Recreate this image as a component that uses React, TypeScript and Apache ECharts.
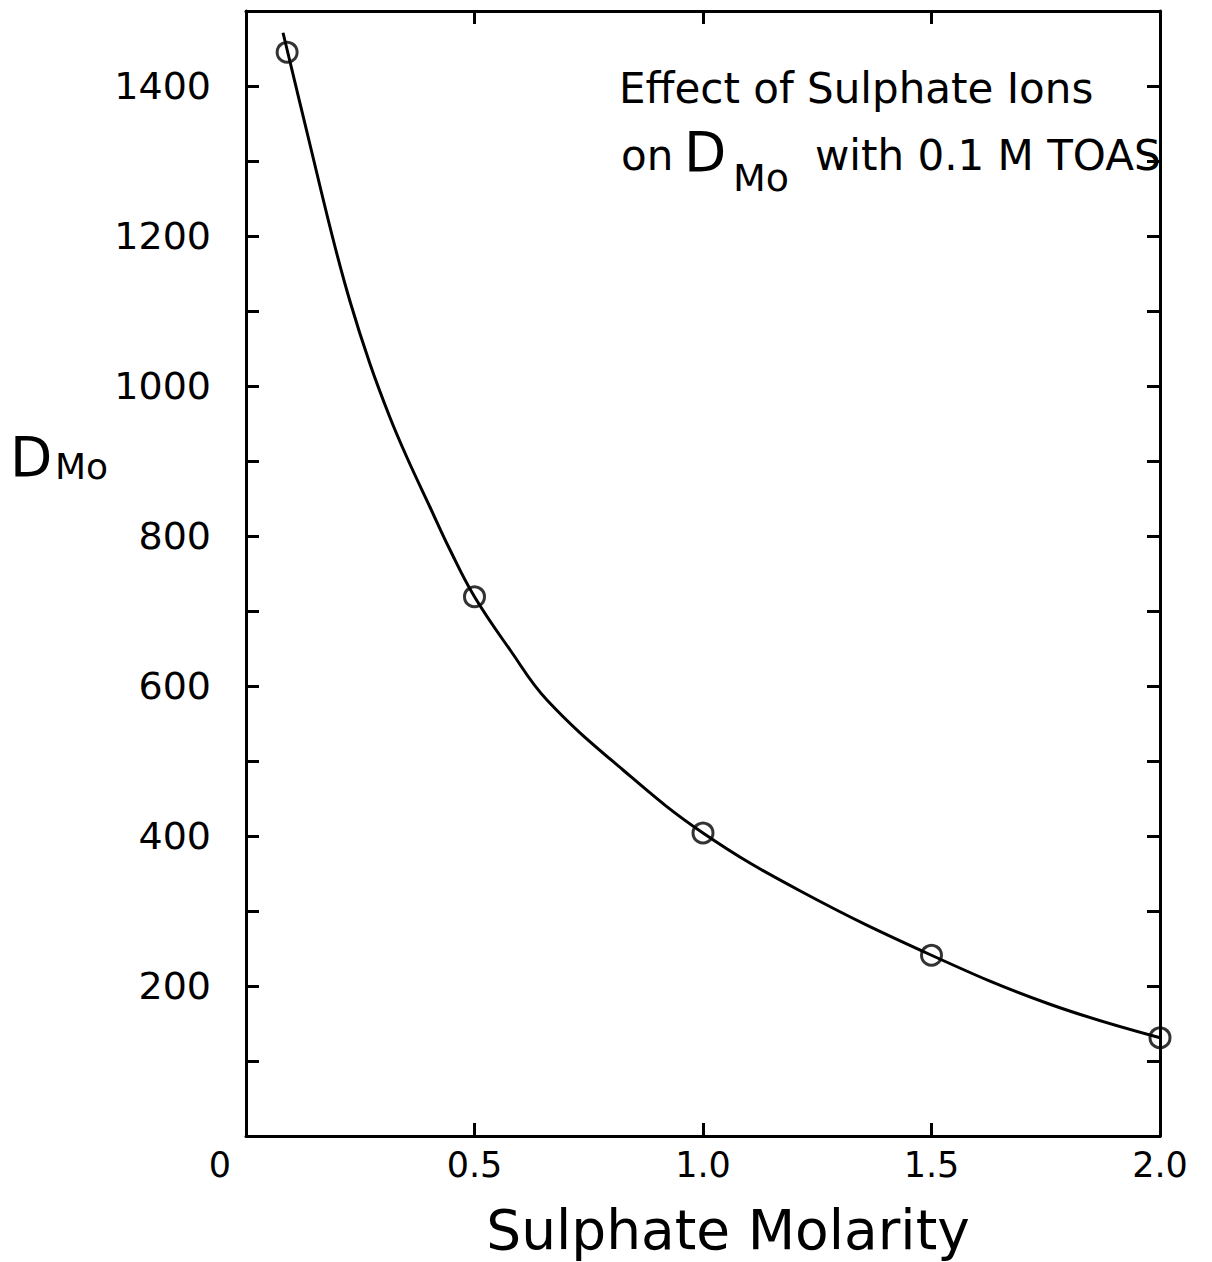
import React, { useEffect, useRef } from "react";
import * as echarts from "echarts";

// Measured points (Sulphate molarity, D_Mo)
const pointX = [0.09, 0.5, 1.0, 1.5, 2.0];
const pointY = [1445, 719, 404, 241, 131];

// Hand-drawn fitted curve
const curveX = [0.081, 0.136, 0.19, 0.228, 0.271, 0.315, 0.352, 0.403, 0.446, 0.5, 0.578, 0.659, 0.825, 1.0, 1.215, 1.5, 1.753, 2.0];
const curveY = [1471, 1332, 1197, 1112, 1030, 958, 905, 838, 782, 719, 648, 581, 488, 404, 326, 241, 177, 131];

const xTickLabels: Record<string, string> = { "0": "0", "0.5": "0.5", "1": "1.0", "1.5": "1.5", "2": "2.0" };
const yLabelValues = [200, 400, 600, 800, 1000, 1200, 1400];

const FONT = "DejaVu Sans";

export default function App() {
  const ref = useRef<HTMLDivElement>(null);
  useEffect(() => {
    if (!ref.current) return;
    const chart = echarts.init(ref.current, undefined, { renderer: "svg" });
    const axisLine = { show: true, onZero: false, lineStyle: { color: "#000", width: 3 } };
    const tick = { show: true, inside: true, length: 13, lineStyle: { color: "#000", width: 3 } };
    const txt = (text: string, left: number, top: number, fontSize: number) => ({
      type: "text",
      left,
      top,
      style: { text, fontFamily: FONT, fontSize, fill: "#000" },
    });
    chart.setOption({
      animation: false,
      backgroundColor: "#fff",
      grid: { left: 246, right: 52, top: 11, bottom: 126, containLabel: false },
      xAxis: [
        {
          type: "value",
          min: 0,
          max: 2,
          interval: 0.5,
          position: "bottom",
          axisLine,
          axisTick: tick,
          splitLine: { show: false },
          axisLabel: {
            margin: 11,
            color: "#000",
            fontFamily: FONT,
            fontSize: 35,
            formatter: (v: number) => {
              const s = xTickLabels[String(v)] ?? "";
              return v === 0 ? "{z|" + s + "}" : s;
            },
            rich: { z: { fontFamily: FONT, fontSize: 35, color: "#000", padding: [0, 52, 0, 0] } },
          },
          name: "Sulphate Molarity",
          nameLocation: "middle",
          nameGap: 66,
          nameTextStyle: { color: "#000", fontFamily: FONT, fontSize: 55, padding: [0, 0, 0, 50] },
        },
        {
          type: "value",
          min: 0,
          max: 2,
          interval: 0.5,
          position: "top",
          axisLine,
          axisTick: tick,
          axisLabel: { show: false },
          splitLine: { show: false },
        },
      ],
      yAxis: [
        {
          type: "value",
          min: 0,
          max: 1500,
          interval: 100,
          position: "left",
          axisLine,
          axisTick: tick,
          splitLine: { show: false },
          axisLabel: {
            margin: 35,
            color: "#000",
            fontFamily: FONT,
            fontSize: 38,
            formatter: (v: number) => (yLabelValues.includes(v) ? String(v) : ""),
          },
        },
        {
          type: "value",
          min: 0,
          max: 1500,
          interval: 100,
          position: "right",
          axisLine,
          axisTick: tick,
          axisLabel: { show: false },
          splitLine: { show: false },
        },
      ],
      graphic: [
        txt("D", 10, 429, 55),
        txt("Mo", 55, 448, 36),
        txt("Effect of Sulphate Ions", 619, 67, 42),
        txt("on", 621, 134, 42),
        txt("D", 684, 124, 55),
        txt("Mo", 733, 159, 38),
        txt("with 0.1 M TOAS", 815, 134, 42),
      ],
      series: [
        {
          type: "line",
          xAxisIndex: 0,
          yAxisIndex: 0,
          data: curveX.map((x, i) => [x, curveY[i]]),
          smooth: 0.4,
          showSymbol: false,
          symbol: "none",
          lineStyle: { color: "#000", width: 3 },
          z: 2,
        },
        {
          type: "scatter",
          xAxisIndex: 0,
          yAxisIndex: 0,
          data: pointX.map((x, i) => [x, pointY[i]]),
          symbol: "circle",
          symbolSize: 20,
          itemStyle: { color: "rgba(255,255,255,0)", borderColor: "#000", borderWidth: 3 },
          z: 3,
        },
      ],
    });
    return () => chart.dispose();
  }, []);
  return (
    <div
      ref={ref}
      style={{ position: "fixed", left: 0, top: 0, width: 1212, height: 1262, background: "#fff" }}
    />
  );
}
